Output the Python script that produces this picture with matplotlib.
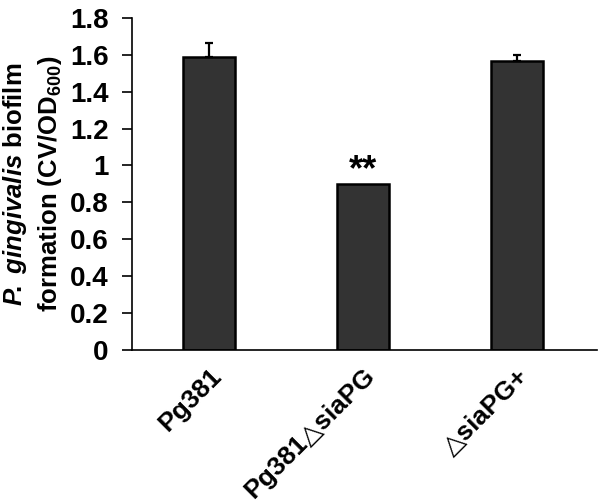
import matplotlib
matplotlib.use('Agg')
import matplotlib.pyplot as plt
import numpy as np

plt.rcParams['font.family'] = ['Liberation Sans', 'DejaVu Sans']
plt.rcParams['font.weight'] = 'bold'
plt.rcParams['mathtext.fontset'] = 'custom'
plt.rcParams['mathtext.rm'] = 'Liberation Sans:bold'
plt.rcParams['mathtext.it'] = 'Liberation Sans:italic:bold'
plt.rcParams['mathtext.bf'] = 'Liberation Sans:bold'

# data
strains = ['Pg381', 'Pg381\u25B3siaPG', '\u25B3siaPG+']
biofilm = [1.59, 0.90, 1.565]
err_up = [0.075, 0.0, 0.035]
stars = ['', '**', '']

fig = plt.figure(figsize=(6, 5.04), dpi=100)
ax = fig.add_axes([0.22, 0.3056, 0.775, 0.659])

x = np.arange(len(strains))
ax.bar(x, biofilm, width=0.34, color='#333333', edgecolor='black', linewidth=1.8)

# error bars only where there is one (upper side only)
has_err = [i for i, e in enumerate(err_up) if e > 0]
ax.errorbar(x[has_err], [biofilm[i] for i in has_err],
            yerr=[[0] * len(has_err), [err_up[i] for i in has_err]],
            fmt='none', ecolor='black', elinewidth=1.6, capsize=3, capthick=1.6, zorder=1)

for xi, v, e, s in zip(x, biofilm, err_up, stars):
    if s:
        ax.text(xi, v + e - 0.025, s, ha='center', va='bottom', fontsize=26, fontweight='bold')

ax.set_xlim(-0.5, 2.52)
ax.set_ylim(0, 1.8)
ax.set_yticks(np.arange(0, 1.81, 0.2))
ax.set_yticklabels(['0', '0.2', '0.4', '0.6', '0.8', '1', '1.2', '1.4', '1.6', '1.8'])
ax.set_xticks(x)
ax.set_xticklabels(strains, rotation=45, ha='right', rotation_mode='anchor')

ax.tick_params(axis='y', labelsize=20, direction='out', length=7, width=1.2, pad=10)
ax.tick_params(axis='x', labelsize=19, length=0, pad=10)

for sp in ['top', 'right']:
    ax.spines[sp].set_visible(False)
for sp in ['left', 'bottom']:
    ax.spines[sp].set_linewidth(1.2)

ax.set_ylabel('$\\mathit{P\\!.\\ gingivalis}$ biofilm\nformation (CV/OD$_{600}$)',
              fontsize=18.5, fontweight='bold', linespacing=1.35, labelpad=4)

fig.savefig('out.png', dpi=100)
